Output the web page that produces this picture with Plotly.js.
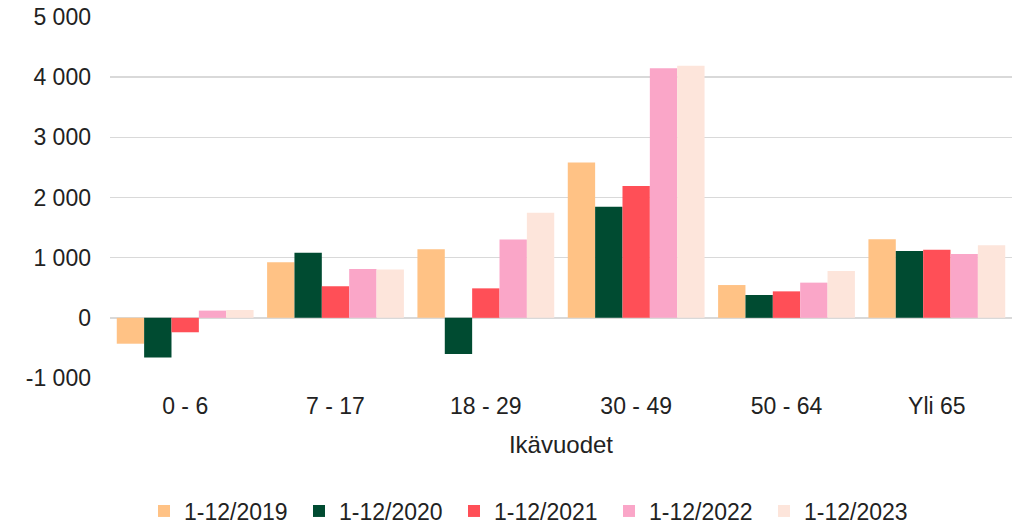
<!DOCTYPE html>
<html>
<head>
<meta charset="utf-8">
<script src="https://cdn.plot.ly/plotly-3.0.1.min.js"></script>
<style>
html,body{margin:0;padding:0;background:#fff;}
#chart{width:1020px;height:526px;}
</style>
</head>
<body>
<div id="chart"></div>
<script>
var categories = ["0 - 6", "7 - 17", "18 - 29", "30 - 49", "50 - 64", "Yli 65"];
var seriesNames = ["1-12/2019", "1-12/2020", "1-12/2021", "1-12/2022", "1-12/2023"];
var v2019 = [-430, 925, 1140, 2580, 545, 1305];
var v2020 = [-660, 1080, -600, 1845, 380, 1110];
var v2021 = [-240, 525, 490, 2190, 440, 1130];
var v2022 = [120, 810, 1300, 4150, 585, 1060];
var v2023 = [130, 805, 1745, 4190, 780, 1205];
var yTickVals = [-1000, 0, 1000, 2000, 3000, 4000, 5000];
var yTickText = ["-1 000", "0", "1 000", "2 000", "3 000", "4 000", "5 000"];
var xTitle = "Ikävuodet";

var colors = ["#FFC285", "#004B31", "#FF4F57", "#FAA6C8", "#FDE5DB"];
var values = [v2019, v2020, v2021, v2022, v2023];

var traces = values.map(function (vals, i) {
  return {
    type: "bar",
    name: seriesNames[i],
    x: categories,
    y: vals,
    marker: { color: colors[i] },
    hoverinfo: "x+y+name"
  };
});

var font = { family: "Liberation Sans, Arial, sans-serif", size: 23, color: "#222222" };

var layout = {
  width: 1020,
  height: 526,
  margin: { l: 110, r: 8, t: 17, b: 148, autoexpand: false },
  paper_bgcolor: "#ffffff",
  plot_bgcolor: "#ffffff",
  font: font,
  barmode: "group",
  bargap: 0.09,
  bargroupgap: 0,
  showlegend: true,
  legend: {
    orientation: "h",
    xref: "container",
    yref: "container",
    x: 144 / 1020,
    xanchor: "left",
    y: 15 / 526,
    yanchor: "middle",
    font: font,
    entrywidth: 110,
    entrywidthmode: "pixels",
    traceorder: "normal",
    tracegroupgap: 0
  },
  xaxis: {
    type: "category",
    tickfont: font,
    showgrid: false,
    showline: false,
    zeroline: false,
    ticks: "",
    ticklabelstandoff: 12,
    title: { text: xTitle, font: { family: font.family, size: 24, color: font.color }, standoff: 18 }
  },
  yaxis: {
    range: [-1000, 5000],
    tickvals: yTickVals,
    ticktext: yTickText,
    tickfont: font,
    showgrid: true,
    gridcolor: "#d9d9d9",
    gridwidth: 1.5,
    zeroline: true,
    zerolinecolor: "#d9d9d9",
    zerolinewidth: 2,
    showline: false,
    ticks: "",
    ticklabelstandoff: 18,
    fixedrange: true
  }
};

Plotly.newPlot("chart", traces, layout, { displayModeBar: false, staticPlot: true });
</script>
</body>
</html>
